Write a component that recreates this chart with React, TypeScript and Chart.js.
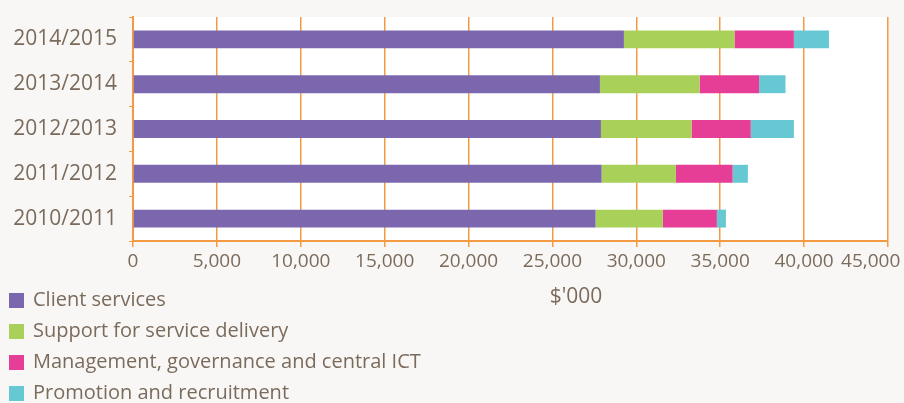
import React, { useEffect, useRef } from "react";
import { Chart, registerables } from "chart.js";

Chart.register(...registerables);

const categories = ["2014/2015", "2013/2014", "2012/2013", "2011/2012", "2010/2011"];
const clientServices = [29260, 27830, 27890, 27930, 27570];
const supportDelivery = [6590, 5940, 5400, 4430, 4010];
const managementICT = [3540, 3550, 3530, 3380, 3220];
const promotionRecruitment = [2090, 1570, 2570, 910, 540];
const seriesNames = [
  "Client services",
  "Support for service delivery",
  "Management, governance and central ICT",
  "Promotion and recruitment",
];
const seriesColors = ["#7b67ae", "#a9d15a", "#e63e96", "#66c8d2"];
const xTitle = "$'000";

const TEXT = "#7b6b5c";
const GRID = "#f39a45";
const FONT = "'Open Sans', sans-serif";

const bgPlugin = {
  id: "bgPlugin",
  beforeDraw(chart: any) {
    const { ctx, chartArea, width, height } = chart;
    ctx.save();
    ctx.fillStyle = "#f8f7f5";
    ctx.fillRect(0, 0, width, height);
    ctx.fillStyle = "#ffffff";
    ctx.fillRect(chartArea.left, chartArea.top, chartArea.right - chartArea.left, chartArea.bottom - chartArea.top);
    ctx.restore();
  },
  afterDraw(chart: any) {
    const { ctx } = chart;
    ctx.save();
    ctx.fillStyle = TEXT;
    ctx.font = `21px ${FONT}`;
    ctx.textAlign = "center";
    ctx.textBaseline = "middle";
    ctx.fillText(xTitle, 576, 297);
    ctx.textAlign = "left";
    ctx.font = `20px ${FONT}`;
    chart.data.datasets.forEach((ds: any, i: number) => {
      const top = 293 + i * 31;
      ctx.fillStyle = ds.backgroundColor;
      ctx.fillRect(9, top, 15, 15);
      ctx.fillStyle = TEXT;
      ctx.fillText(ds.label, 33, top + 7.5);
    });
    ctx.restore();
  },
};

export default function App() {
  const ref = useRef<HTMLCanvasElement | null>(null);
  useEffect(() => {
    document.body.style.margin = "0";
    const values = [clientServices, supportDelivery, managementICT, promotionRecruitment];
    const chart = new Chart(ref.current as HTMLCanvasElement, {
      type: "bar",
      data: {
        labels: categories,
        datasets: values.map((v, i) => ({
          label: seriesNames[i],
          data: v,
          backgroundColor: seriesColors[i],
          borderWidth: 0,
          barPercentage: 0.4,
          categoryPercentage: 1,
        })),
      },
      options: {
        indexAxis: "y",
        responsive: false,
        animation: false,
        layout: { padding: { left: 0, right: 16, top: 17, bottom: 128 } },
        plugins: { legend: { display: false }, tooltip: { enabled: false } },
        scales: {
          x: {
            stacked: true,
            min: 0,
            max: 45000,
            ticks: {
              stepSize: 5000,
              color: TEXT,
              font: { family: FONT, size: 19 },
              padding: 3,
              maxRotation: 0,
              autoSkip: false,
              callback: (v: any, i: number, ticks: any[]) => {
                const s = Number(v).toLocaleString("en-US");
                return i === ticks.length - 1 ? s + "       " : s;
              },
            },
            grid: { color: GRID, lineWidth: 1.5, tickLength: 6, drawTicks: true },
            border: { color: GRID, width: 2 },
            afterFit: (scale: any) => {
              scale.paddingRight = 0;
              scale.height = 34;
            },
          },
          y: {
            stacked: true,
            ticks: { color: TEXT, font: { family: FONT, size: 21 }, padding: 12 },
            grid: { color: GRID, drawOnChartArea: false, tickLength: 4, offset: true },
            border: { color: GRID, width: 2 },
            afterFit: (scale: any) => {
              scale.width = 133;
              scale.paddingTop = 0;
              scale.paddingBottom = 0;
            },
          },
        },
      },
      plugins: [bgPlugin],
    });
    return () => chart.destroy();
  }, []);
  return <canvas ref={ref} width={904} height={403} style={{ display: "block" }} />;
}
